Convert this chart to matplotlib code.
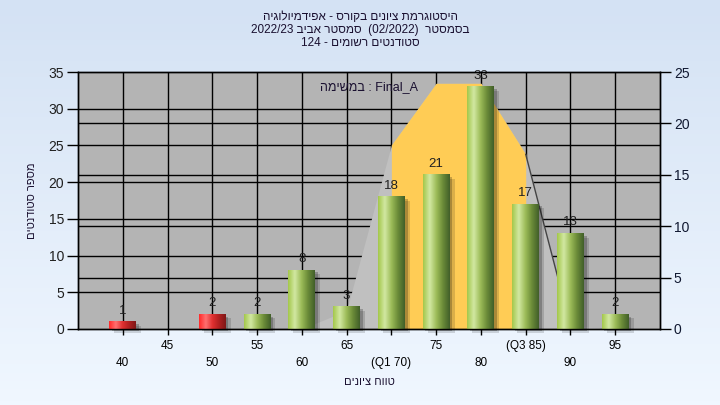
import matplotlib
matplotlib.use('Agg')
import matplotlib.pyplot as plt
import numpy as np
from matplotlib.colors import LinearSegmentedColormap
from matplotlib.patches import Rectangle

plt.rcParams['font.family'] = ['Liberation Sans', 'DejaVu Sans']


def rtl(s):
    # matplotlib has no bidi, so put hebrew words in visual order
    out = []
    for t in reversed(s.split(' ')):
        if any('\u0590' <= c <= '\u05ff' for c in t):
            out.append(t[::-1])
        else:
            out.append(t)
    return ' '.join(out)


# data
grades = [40, 45, 50, 55, 60, 65, 70, 75, 80, 85, 90, 95]
counts = [1, 0, 2, 2, 8, 3, 18, 21, 33, 17, 13, 2]
tick_labels = ['40', '45', '50', '55', '60', '65', '(Q1 70)', '75', '80', '(Q3 85)', '90', '95']
pass_grade = 55
q1, q3 = 70, 85
curve_x = [60, 65, 70, 75, 80, 85, 90, 95]
curve_y = [0, 1.8, 17.9, 23.9, 23.9, 17.0, 0.3, 0]   # right axis units

title_lines = ['היסטוגרמת ציונים בקורס - אפידמיולוגיה',
               'בסמסטר  (02/2022)  סמסטר אביב 2022/23',
               'סטודנטים רשומים - 124']
note = 'Final_A : במשימה'
xlab = 'טווח ציונים'
ylab = 'מספר סטודנטים'

fig = plt.figure(figsize=(7.2, 4.05), dpi=100)

# background gradient
bg = fig.add_axes([0, 0, 1, 1], zorder=-10)
bg_cmap = LinearSegmentedColormap.from_list('bg', ['#d4e2f4', '#f0f7ff'])
bg.imshow(np.linspace(0, 1, 100).reshape(-1, 1), aspect='auto', cmap=bg_cmap, extent=[0, 1, 0, 1])
bg.axis('off')

ax = fig.add_axes([78 / 720, 76 / 405, 582 / 720, 257 / 405])
ax2 = ax.twinx()
ax.set_facecolor('#b4b4b4')

ax.set_xlim(35, 100)
ax.set_ylim(0, 35)
ax2.set_ylim(0, 25)

# grid lines (under the curve)
ax.vlines(grades, 0, 35, color='black', lw=1, zorder=1)
ax.hlines(np.arange(5, 35, 5), 35, 100, color='black', lw=1, zorder=1)
ax.hlines(np.arange(5, 25, 5), 35, 100, color='black', lw=1, zorder=1, transform=ax2.transData)

# curve area on right axis scale
cx = np.array(curve_x)
cy = np.array(curve_y)
ax.fill_between(cx, cy, color='#c0c0c0', lw=0, zorder=2, transform=ax2.transData)
ax.fill_between(cx, cy, where=(cx >= q1) & (cx <= q3), color='#ffcc55', lw=0, zorder=2.1,
                transform=ax2.transData)
ax.plot(cx[5:7], cy[5:7], color='#444444', lw=1, zorder=2.2, transform=ax2.transData)

green = LinearSegmentedColormap.from_list('g', ['#a4c84c', '#d2e8a2', '#9cbc58', '#6a8a38', '#42602a'])
red = LinearSegmentedColormap.from_list('r', ['#ff2a2a', '#ff7070', '#e03030', '#b02020', '#801818'])
grad = np.linspace(0, 1, 60).reshape(1, -1)
w = 3.0
for g, c in zip(grades, counts):
    if c == 0:
        continue
    cm = red if g < pass_grade else green
    # shadow
    ax.add_patch(Rectangle((g - w / 2 + 0.55, -0.55), w, c, color='black', alpha=0.14, lw=0,
                           zorder=3, clip_on=False))
    ax.add_patch(Rectangle((g - w / 2 + 0.3, -0.3), w, c, color='black', alpha=0.22, lw=0,
                           zorder=3, clip_on=False))
    ax.imshow(grad, cmap=cm, aspect='auto', extent=[g - w / 2, g + w / 2, 0, c], zorder=4)
    ax.text(g, c + 0.7, str(c), ha='center', va='bottom', fontsize=9.5, color='#202020', zorder=5)

ax.set_xlim(35, 100)
ax.set_ylim(0, 35)

ax.text(0.5, 0.94, rtl(note), transform=ax.transAxes, ha='center', va='center',
        fontsize=9, color='#1a1030', zorder=6)

# axes and ticks
ax.set_yticks(np.arange(0, 36, 5))
ax2.set_yticks(np.arange(0, 26, 5))
ax.tick_params(axis='y', direction='out', length=8, width=1, pad=2, labelsize=10, labelcolor='#202020')
ax2.tick_params(axis='y', direction='out', length=8, width=1, pad=2, labelsize=10, labelcolor='#101830')
ax.set_xticks(grades)
labels = [('\n' + t) if i % 2 == 0 else (t + '\n') for i, t in enumerate(tick_labels)]
ax.set_xticklabels(labels, fontsize=8.5)
for lbl in ax.get_xticklabels():
    lbl.set_linespacing(1.55)
ax.tick_params(axis='x', direction='out', length=4, width=1, pad=4)
for sp in list(ax.spines.values()) + list(ax2.spines.values()):
    sp.set_color('black')
    sp.set_linewidth(1)

ax.set_xlabel(rtl(xlab), fontsize=8, labelpad=6, color='#1a1030')
ax.set_ylabel(rtl(ylab), fontsize=8, labelpad=8, color='#1a1030')

for i, line in enumerate(title_lines):
    fig.text(0.5, 1 - (17 + 13 * i) / 405, rtl(line), ha='center', va='center', fontsize=8.5,
             color='#1a1030')

fig.savefig('out.png', dpi=100)
